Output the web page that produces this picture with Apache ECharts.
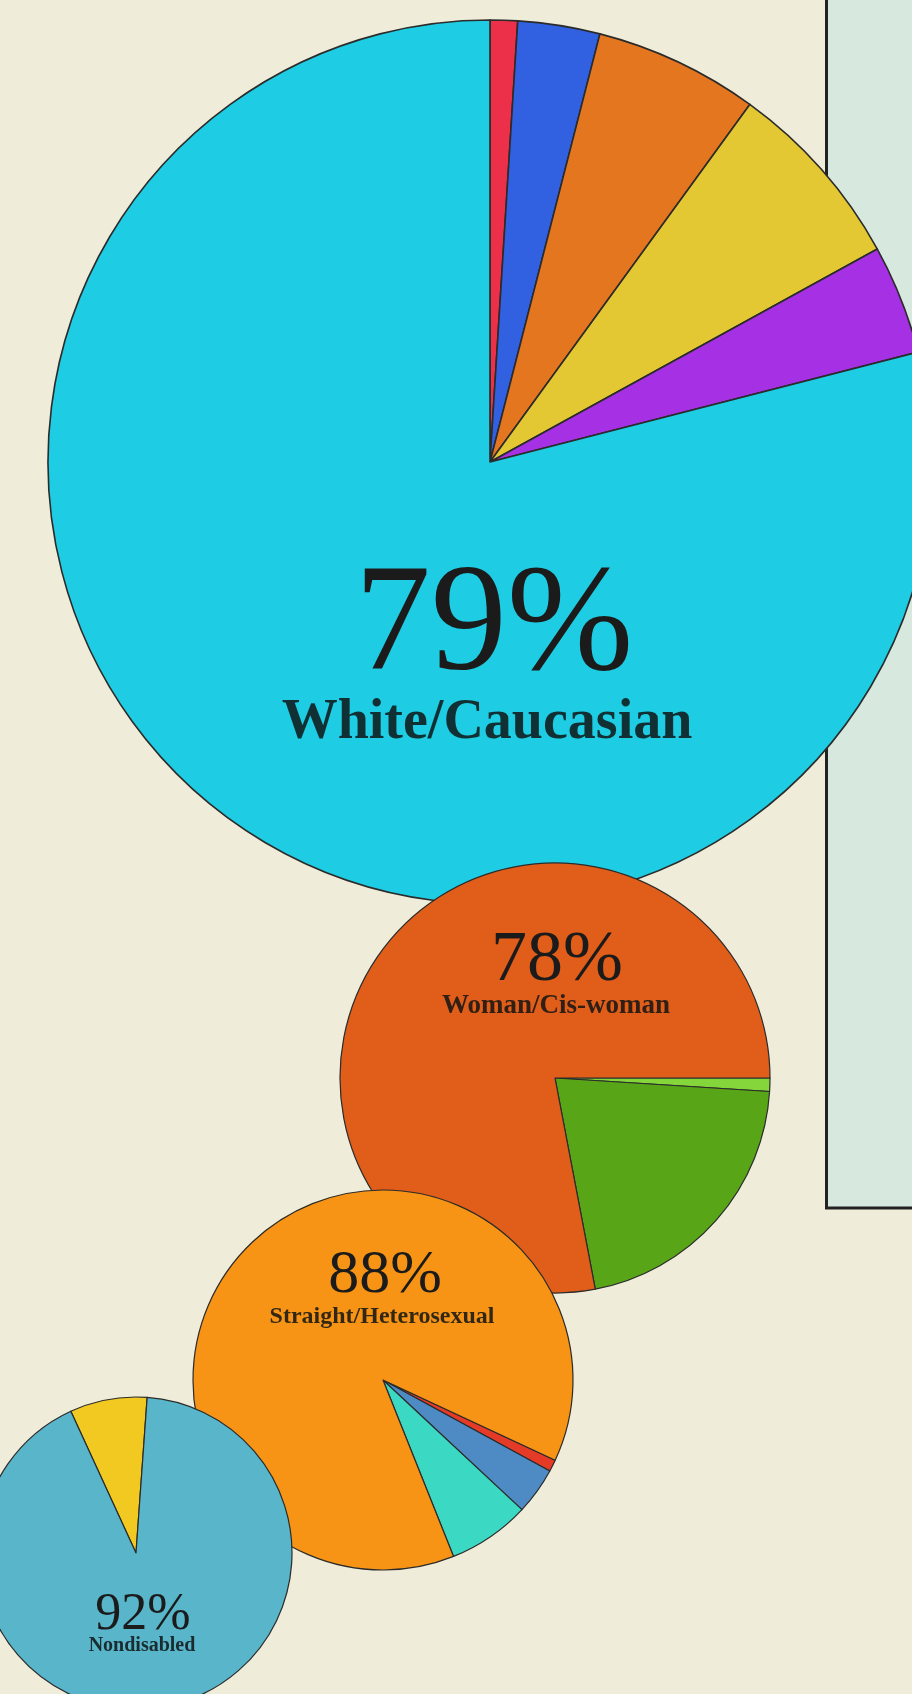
<!DOCTYPE html>
<html>
<head>
<meta charset="utf-8">
<script src="https://cdn.jsdelivr.net/npm/echarts@6/dist/echarts.min.js"></script>
<style>
html,body{margin:0;padding:0;background:#efecd9;}
#chart{width:912px;height:1694px;}
</style>
</head>
<body>
<div id="chart"></div>
<script>
// ---- Data (percent of respondents) ----
const raceNames   = ['Race group A', 'Race group B', 'Race group C', 'Race group D', 'Race group E', 'White/Caucasian'];
const raceValues  = [1, 3, 6, 7, 4, 79];
const raceColors  = ['#ec3049', '#3161e0', '#e4761f', '#e4c833', '#a530e4', '#1ecde3'];

const genderNames  = ['Gender group A', 'Gender group B', 'Woman/Cis-woman'];
const genderValues = [1, 21, 78];
const genderColors = ['#84d63a', '#58a618', '#e05d1a'];

const orientNames  = ['Orientation group A', 'Orientation group B', 'Orientation group C', 'Straight/Heterosexual'];
const orientValues = [1, 4, 7, 88];
const orientColors = ['#e53b26', '#4e8bc4', '#3bd9c3', '#f79415'];

const abilityNames  = ['Disabled', 'Nondisabled'];
const abilityValues = [8, 92];
const abilityColors = ['#f1c920', '#58b5ca'];

const headlines = ['79%', '78%', '88%', '92%'];
const subtitles = ['White/Caucasian', 'Woman/Cis-woman', 'Straight/Heterosexual', 'Nondisabled'];

// ---- Layout constants ----
const pies = [
  { cx: 490, cy: 462,  r: 442, start: 90,    bw: 1.6, z: 2 },
  { cx: 555, cy: 1078, r: 215, start: 0,     bw: 1.2, z: 3 },
  { cx: 383, cy: 1380, r: 190, start: -25,   bw: 1.2, z: 4 },
  { cx: 136, cy: 1553, r: 156, start: 114.7, bw: 1.2, z: 5 }
];
const textPos = [
  { hx: 494, hy: 629,  hs: 152, sx: 487, sy: 724,  ss: 56 },
  { hx: 557, hy: 961,  hs: 72,  sx: 556, sy: 1006, ss: 27 },
  { hx: 385, hy: 1276, hs: 62,  sx: 382, sy: 1317, ss: 24 },
  { hx: 143, hy: 1615, hs: 52,  sx: 142, sy: 1646, ss: 20 }
];

function makeData(names, values, colors) {
  return names.map((n, i) => ({ name: n, value: values[i], itemStyle: { color: colors[i] } }));
}
const dataSets = [
  makeData(raceNames, raceValues, raceColors),
  makeData(genderNames, genderValues, genderColors),
  makeData(orientNames, orientValues, orientColors),
  makeData(abilityNames, abilityValues, abilityColors)
];

const series = pies.map((p, i) => ({
  type: 'pie',
  center: [p.cx, p.cy],
  radius: p.r,
  startAngle: p.start,
  clockwise: true,
  z: p.z,
  silent: true,
  animation: false,
  label: { show: false },
  labelLine: { show: false },
  emphasis: { disabled: true },
  itemStyle: { borderColor: '#2b2b2b', borderWidth: p.bw },
  data: dataSets[i]
}));

const graphics = [{
  type: 'rect',
  z: 0,
  silent: true,
  shape: { x: 826.5, y: -5, width: 100, height: 1213 },
  style: { fill: '#d7e9de', stroke: '#222222', lineWidth: 3 }
}];
textPos.forEach((t, i) => {
  graphics.push({
    type: 'text', z: 100, silent: true,
    style: {
      x: t.hx, y: t.hy, text: headlines[i],
      fontFamily: 'Liberation Serif', fontSize: t.hs, fontWeight: 'normal',
      fill: '#1b1b1b', textAlign: 'center', textVerticalAlign: 'middle'
    }
  });
  graphics.push({
    type: 'text', z: 100, silent: true,
    style: {
      x: t.sx, y: t.sy, text: subtitles[i],
      fontFamily: 'Liberation Serif', fontSize: t.ss, fontWeight: 'bold',
      fill: 'rgba(15,20,20,0.85)', textAlign: 'center', textVerticalAlign: 'middle'
    }
  });
});

const chart = echarts.init(document.getElementById('chart'), null, { renderer: 'canvas' });
chart.setOption({
  backgroundColor: '#efecd9',
  animation: false,
  series: series,
  graphic: { elements: graphics }
});
</script>
</body>
</html>
